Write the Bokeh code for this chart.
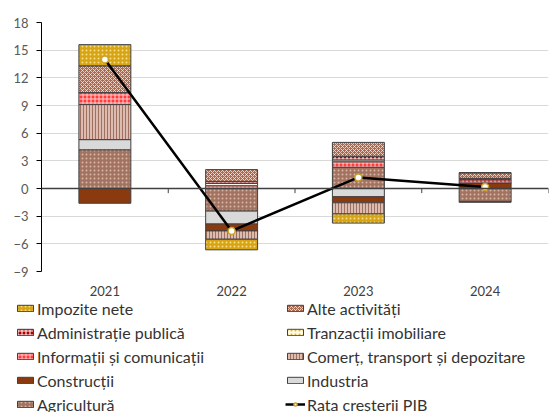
from bokeh.plotting import figure
from bokeh.models import (ColumnDataSource, Range1d, FixedTicker, Legend, LegendItem, Span)
from bokeh.layouts import column, row
from bokeh.embed import file_html
from bokeh.resources import INLINE

years = ["2021", "2022", "2023", "2024"]

agricultura = [4.2, -2.45, 2.3, -1.4]
industria = [1.1, -1.4, -0.9, -0.1]
constructii = [-1.6, -0.75, -0.65, 0.6]
comert = [3.8, -0.9, -1.2, 0.0]
informatii = [1.3, 0.3, 0.6, 0.35]
tranzactii = [0.0, 0.25, 0.2, 0.05]
administratie = [0.0, 0.2, 0.4, 0.1]
alte = [2.9, 1.3, 1.5, 0.6]
impozite = [2.3, -1.15, -1.0, 0.0]
rata = [14.0, -4.6, 1.2, 0.15]

y_ticks = [-9, -6, -3, 0, 3, 6, 9, 12, 15, 18]

# stacking order (bottom -> top)
series = [
    ("Agricultură", agricultura, dict(fill_color="#a27360", hatch_pattern="dot", hatch_color="#d8b4a4", hatch_scale=4, hatch_weight=1)),
    ("Industria", industria, dict(fill_color="#d9d9d9")),
    ("Construcții", constructii, dict(fill_color="#8a3a0e")),
    ("Comerț, transport și depozitare", comert, dict(fill_color="#dcbcb0", hatch_pattern="vertical_line", hatch_color="#a07060", hatch_scale=3, hatch_weight=1)),
    ("Informații și comunicații", informatii, dict(fill_color="#ff3b3b", hatch_pattern="cross", hatch_color="#ffd0d0", hatch_scale=4, hatch_weight=1)),
    ("Tranzacții imobiliare", tranzactii, dict(fill_color="#fffbe8", hatch_pattern="dot", hatch_color="#e0b030", hatch_scale=4, hatch_weight=1)),
    ("Administrație publică", administratie, dict(fill_color="#b00000", hatch_pattern="cross", hatch_color="#ffffff", hatch_scale=4, hatch_weight=1)),
    ("Alte activități", alte, dict(fill_color="#a86a52", hatch_pattern="diagonal_cross", hatch_color="#f4e6de", hatch_scale=4, hatch_weight=0.8)),
    ("Impozite nete", impozite, dict(fill_color="#d6a414", hatch_pattern="dot", hatch_color="#f6de88", hatch_scale=4, hatch_weight=0.8)),
]

legend_order = ["Impozite nete", "Alte activități", "Administrație publică", "Tranzacții imobiliare",
                "Informații și comunicații", "Comerț, transport și depozitare", "Construcții",
                "Industria", "Agricultură"]

xs = list(range(1, len(years) + 1))

p = figure(width=550, height=298, output_backend="svg", toolbar_location=None,
           x_range=Range1d(0.5, len(years) + 0.5), y_range=Range1d(-9, 18),
           min_border_left=41, min_border_right=2, min_border_top=22, min_border_bottom=27)
p.outline_line_color = None

# legend-only figure; it reuses the same sources but its ranges keep the bars out of view
lg = figure(width=550, height=114, output_backend="svg", toolbar_location=None,
            x_range=Range1d(100, 101), y_range=Range1d(100, 101),
            x_axis_location=None, y_axis_location=None,
            min_border_left=0, min_border_right=0, min_border_top=0, min_border_bottom=0)
lg.outline_line_color = None
lg.grid.grid_line_color = None

pos = [0.0] * len(years)
neg = [0.0] * len(years)
legend_renderers = {}
for name, vals, style in series:
    bottoms, tops = [], []
    for i, v in enumerate(vals):
        if v >= 0:
            bottoms.append(pos[i]); tops.append(pos[i] + v); pos[i] += v
        else:
            bottoms.append(neg[i] + v); tops.append(neg[i]); neg[i] += v
    src = ColumnDataSource(dict(x=xs, bottom=bottoms, top=tops))
    p.vbar(x="x", bottom="bottom", top="top", width=0.41, source=src,
           line_color="#404040", line_width=1, **style)
    legend_renderers[name] = lg.vbar(x="x", bottom="bottom", top="top", width=0.41, source=src,
                                     line_color="#404040", line_width=1, **style)

zero = Span(location=0, dimension="width", line_color="#404040", line_width=1.5)
p.add_layout(zero)

# category boundary ticks on the zero line
bx = [x + 0.5 for x in xs]
p.segment(x0=bx, x1=bx, y0=[0] * len(bx), y1=[-0.5] * len(bx), line_color="#404040", line_width=1)

rate_src = ColumnDataSource(dict(x=xs, y=rata))
p.line("x", "y", source=rate_src, line_color="black", line_width=2.5)
p.scatter("x", "y", source=rate_src, size=7, fill_color="white", line_color="#c9a227", line_width=1.5)
l1 = lg.line("x", "y", source=rate_src, line_color="black", line_width=2.5)
l2 = lg.scatter("x", "y", source=rate_src, size=7, fill_color="white", line_color="#c9a227", line_width=1.5)

# axes
p.yaxis.ticker = FixedTicker(ticks=y_ticks)
p.yaxis.major_tick_out = 5
p.yaxis.major_tick_in = 0
p.yaxis.minor_tick_line_color = None
p.yaxis.axis_line_color = "black"
p.yaxis.major_tick_line_color = "black"
p.yaxis.major_label_standoff = 8
p.yaxis.major_label_text_font = "Lato"
p.yaxis.major_label_text_font_size = "13px"
p.yaxis.major_label_text_color = "#595959"

p.xaxis.ticker = FixedTicker(ticks=xs)
p.xaxis.major_label_overrides = {x: y for x, y in zip(xs, years)}
p.xaxis.axis_line_color = None
p.xaxis.major_tick_line_color = None
p.xaxis.minor_tick_line_color = None
p.xaxis.major_label_standoff = 8
p.xaxis.major_label_text_font = "Lato"
p.xaxis.major_label_text_font_size = "13px"
p.xaxis.major_label_text_color = "#404040"

p.xgrid.grid_line_color = None
p.ygrid.ticker = FixedTicker(ticks=y_ticks)
p.ygrid.grid_line_color = "#d9d9d9"

items = [LegendItem(label=n, renderers=[legend_renderers[n]]) for n in legend_order]
items.append(LegendItem(label="Rata creșterii PIB", renderers=[l1, l2]))

legend = Legend(items=items, orientation="horizontal", ncols=2, location=(15, -2),
                glyph_width=20, glyph_height=8, label_height=20, label_width=244,
                label_standoff=2, spacing=4, padding=0, margin=0,
                border_line_color=None, background_fill_alpha=0,
                label_text_font="Lato", label_text_font_size="16px", label_text_color="#333333")
lg.add_layout(legend, "center")

layout = column(p, row(lg), spacing=0)
open("out.html", "w").write(file_html(layout, INLINE))
